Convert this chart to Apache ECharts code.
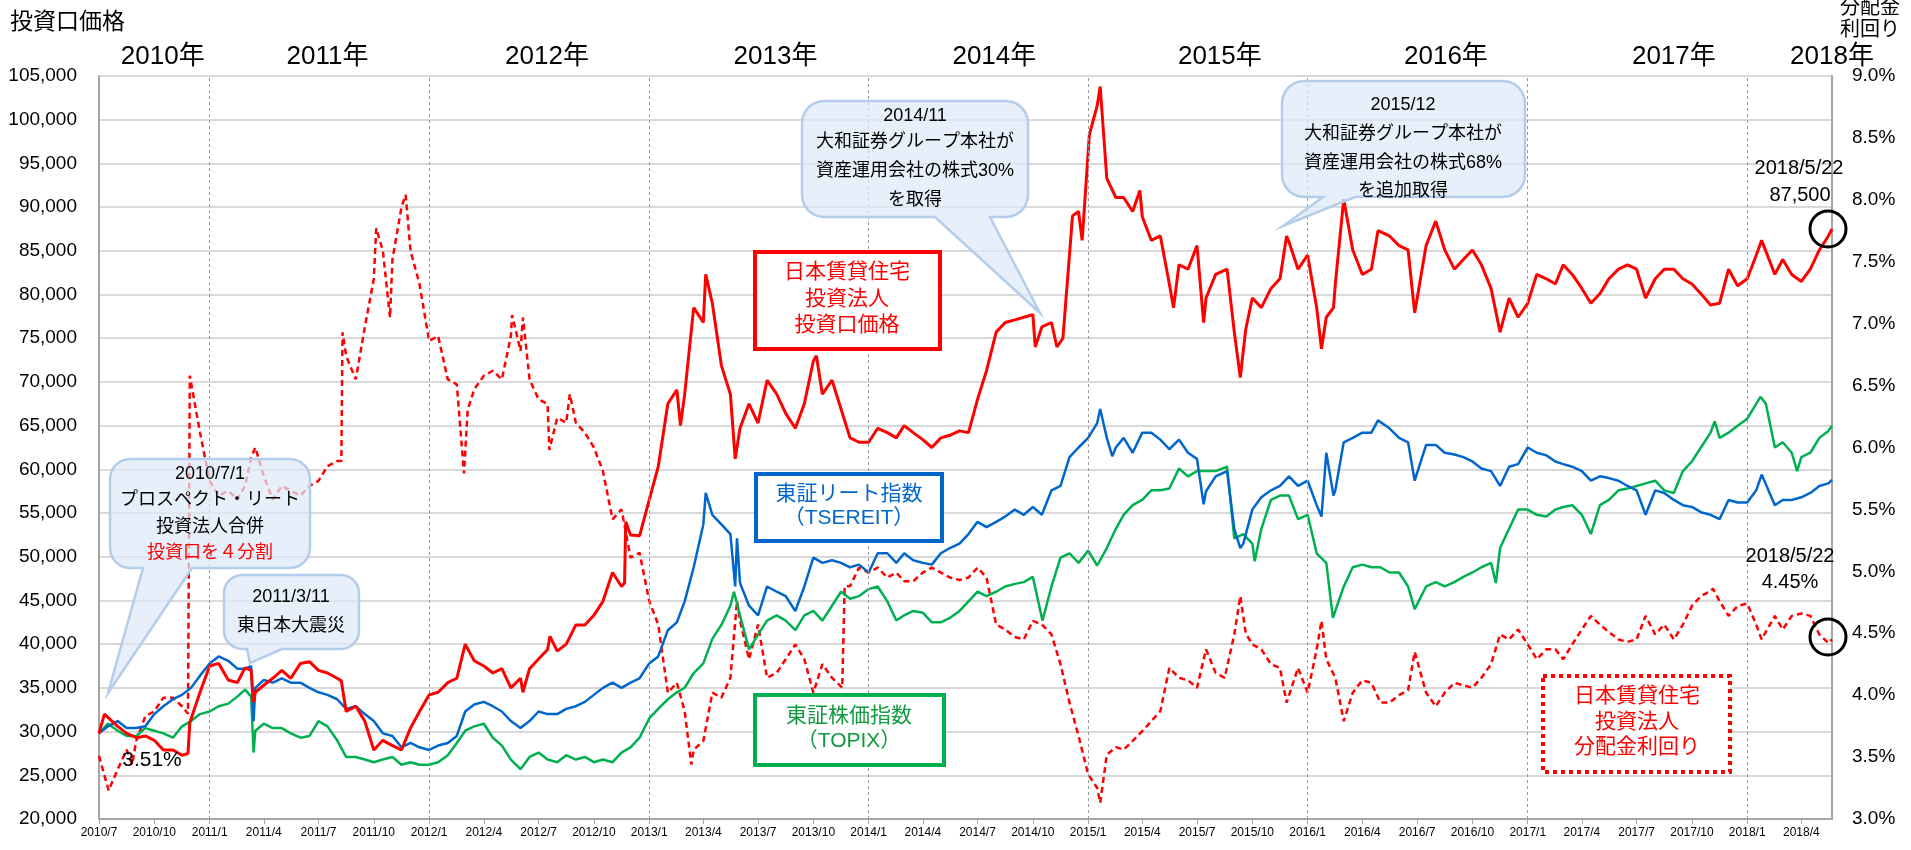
<!DOCTYPE html>
<html>
<head>
<meta charset="utf-8">
<title>日本賃貸住宅投資法人 投資口価格と分配金利回り</title>
<script src="https://cdn.jsdelivr.net/npm/echarts@6.0.0/dist/echarts.min.js"></script>
<style>
  html, body { margin: 0; padding: 0; background: #fff; }
  #main { width: 1911px; height: 850px; }
</style>
</head>
<body>
<div id="main"></div>
<script>
// 日本賃貸住宅投資法人 投資口価格（左軸・円）
var priceData = [
  ['2010-07-01', 29800], ['2010-07-10', 32000], ['2010-08-01', 30600], ['2010-08-16', 29800],
  ['2010-09-01', 29300], ['2010-09-16', 29500], ['2010-10-01', 29000], ['2010-10-16', 27900],
  ['2010-11-01', 27900], ['2010-11-16', 27300], ['2010-11-26', 27500], ['2010-11-29', 31000],
  ['2010-12-16', 34500], ['2011-01-01', 37500], ['2011-01-16', 37800], ['2011-02-01', 35900],
  ['2011-02-16', 35600], ['2011-03-01', 37300], ['2011-03-11', 37000], ['2011-03-15', 33400],
  ['2011-03-18', 34500], ['2011-04-01', 35300], ['2011-04-16', 36100], ['2011-05-01', 37000],
  ['2011-05-16', 36100], ['2011-06-01', 37800], ['2011-06-16', 38000], ['2011-07-01', 37000],
  ['2011-07-16', 36700], ['2011-08-01', 36100], ['2011-08-08', 35800], ['2011-08-16', 32300],
  ['2011-09-01', 32900], ['2011-09-16', 31200], ['2011-10-01', 27900], ['2011-10-16', 29000],
  ['2011-11-01', 28400], ['2011-11-16', 27900], ['2011-12-01', 30400], ['2011-12-16', 32300],
  ['2012-01-01', 34200], ['2012-01-16', 34500], ['2012-02-01', 35600], ['2012-02-16', 36100],
  ['2012-03-01', 40000], ['2012-03-16', 38100], ['2012-04-01', 37500], ['2012-04-16', 36700],
  ['2012-05-01', 37200], ['2012-05-16', 35000], ['2012-06-01', 36100], ['2012-06-05', 34500],
  ['2012-06-16', 37200], ['2012-07-01', 38300], ['2012-07-16', 39400], ['2012-07-20', 40900],
  ['2012-08-01', 39200], ['2012-08-16', 40000], ['2012-09-01', 42200], ['2012-09-16', 42200],
  ['2012-10-01', 43300], ['2012-10-16', 44900], ['2012-11-01', 48200], ['2012-11-16', 46600],
  ['2012-11-21', 47000], ['2012-11-23', 54000], ['2012-12-01', 52500], ['2012-12-16', 52400],
  ['2013-01-01', 56500], ['2013-01-16', 60300], ['2013-02-01', 67500], ['2013-02-16', 69100],
  ['2013-02-22', 65000], ['2013-03-01', 68600], ['2013-03-16', 78500], ['2013-04-01', 76800],
  ['2013-04-05', 82300], ['2013-04-16', 79000], ['2013-05-01', 71900], ['2013-05-16', 68600],
  ['2013-05-24', 61200], ['2013-06-01', 64700], ['2013-06-16', 67500], ['2013-07-01', 65300],
  ['2013-07-16', 70200], ['2013-08-01', 68600], ['2013-08-16', 66400], ['2013-09-01', 64700],
  ['2013-09-16', 67500], ['2013-10-01', 72400], ['2013-10-06', 73000], ['2013-10-16', 68600],
  ['2013-11-01', 70200], ['2013-11-16', 66900], ['2013-12-01', 63600], ['2013-12-16', 63100],
  ['2014-01-01', 63100], ['2014-01-16', 64700], ['2014-02-01', 64200], ['2014-02-16', 63600],
  ['2014-03-01', 65000], ['2014-03-16', 64200], ['2014-04-01', 63400], ['2014-04-16', 62500],
  ['2014-05-01', 63600], ['2014-05-16', 63900], ['2014-06-01', 64400], ['2014-06-16', 64200],
  ['2014-07-01', 68000], ['2014-07-16', 71300], ['2014-08-01', 75700], ['2014-08-16', 76800],
  ['2014-09-01', 77100], ['2014-09-16', 77400], ['2014-10-01', 77700], ['2014-10-05', 74000],
  ['2014-10-16', 76300], ['2014-11-01', 76800], ['2014-11-10', 74000], ['2014-11-20', 75000],
  ['2014-12-06', 89000], ['2014-12-16', 89500], ['2014-12-22', 86200], ['2015-01-03', 98300],
  ['2015-01-16', 101600], ['2015-01-21', 103800], ['2015-02-01', 93300], ['2015-02-16', 91100],
  ['2015-03-01', 91100], ['2015-03-16', 89500], ['2015-03-28', 91900], ['2015-04-01', 88900],
  ['2015-04-16', 86200], ['2015-05-01', 86700], ['2015-05-16', 81200], ['2015-05-23', 78500],
  ['2015-06-01', 83400], ['2015-06-16', 82900], ['2015-07-01', 85600], ['2015-07-12', 76800],
  ['2015-07-16', 79600], ['2015-08-01', 82300], ['2015-08-20', 82900], ['2015-09-01', 75700],
  ['2015-09-11', 70500], ['2015-09-20', 76000], ['2015-10-01', 79600], ['2015-10-16', 78500],
  ['2015-11-01', 80700], ['2015-11-16', 81800], ['2015-11-27', 86700], ['2015-12-01', 86000],
  ['2015-12-16', 82900], ['2016-01-01', 84500], ['2016-01-16', 78500], ['2016-01-24', 73800],
  ['2016-02-01', 77400], ['2016-02-13', 78500], ['2016-02-16', 81200], ['2016-03-01', 90900],
  ['2016-03-16', 85100], ['2016-04-01', 82300], ['2016-04-16', 82900], ['2016-04-27', 87300],
  ['2016-05-16', 86700], ['2016-06-01', 85600], ['2016-06-16', 85100], ['2016-06-27', 77900],
  ['2016-07-16', 85600], ['2016-08-01', 88400], ['2016-08-16', 85100], ['2016-09-01', 82900],
  ['2016-09-16', 84000], ['2016-10-01', 85100], ['2016-10-16', 83400], ['2016-11-01', 80700],
  ['2016-11-16', 75700], ['2016-12-01', 79600], ['2016-12-16', 77400], ['2017-01-01', 79000],
  ['2017-01-16', 82300], ['2017-02-01', 81800], ['2017-02-16', 81200], ['2017-03-01', 83400],
  ['2017-03-16', 82300], ['2017-04-01', 80700], ['2017-04-16', 79000], ['2017-05-01', 80100],
  ['2017-05-16', 81800], ['2017-06-01', 82900], ['2017-06-16', 83400], ['2017-07-01', 82900],
  ['2017-07-16', 79600], ['2017-08-01', 81800], ['2017-08-16', 82900], ['2017-09-01', 82900],
  ['2017-09-16', 81800], ['2017-10-01', 81200], ['2017-10-16', 80100], ['2017-11-01', 78800],
  ['2017-11-16', 79000], ['2017-12-01', 82900], ['2017-12-16', 81000], ['2018-01-01', 81800],
  ['2018-01-16', 84500], ['2018-01-25', 86200], ['2018-02-16', 82300], ['2018-03-01', 84000],
  ['2018-03-16', 82300], ['2018-04-01', 81500], ['2018-04-16', 82900], ['2018-05-01', 85100],
  ['2018-05-16', 86700], ['2018-05-22', 87500]
];

// 東証リート指数（左軸スケールに換算）
var reitData = [
  ['2010-07-01', 29800], ['2010-07-16', 30600], ['2010-08-01', 31200], ['2010-08-16', 30400],
  ['2010-09-01', 30400], ['2010-09-16', 30600], ['2010-10-01', 32000], ['2010-10-16', 32900],
  ['2010-11-01', 33700], ['2010-11-16', 34200], ['2010-12-01', 35000], ['2010-12-16', 36400],
  ['2011-01-01', 37800], ['2011-01-16', 38600], ['2011-02-01', 38100], ['2011-02-16', 37200],
  ['2011-03-01', 37200], ['2011-03-11', 37500], ['2011-03-15', 31200], ['2011-03-18', 35000],
  ['2011-04-01', 35900], ['2011-04-16', 35600], ['2011-05-01', 36100], ['2011-05-16', 35600],
  ['2011-06-01', 35600], ['2011-06-16', 35000], ['2011-07-01', 34500], ['2011-07-16', 34200],
  ['2011-08-01', 33700], ['2011-08-16', 32600], ['2011-09-01', 32900], ['2011-09-16', 32000],
  ['2011-10-01', 31200], ['2011-10-16', 29800], ['2011-11-01', 29500], ['2011-11-16', 28200],
  ['2011-12-01', 28700], ['2011-12-16', 28200], ['2012-01-01', 27900], ['2012-01-16', 28400],
  ['2012-02-01', 28700], ['2012-02-16', 29500], ['2012-03-01', 32300], ['2012-03-16', 33100],
  ['2012-04-01', 33400], ['2012-04-16', 32900], ['2012-05-01', 32300], ['2012-05-16', 31200],
  ['2012-06-01', 30400], ['2012-06-16', 31200], ['2012-07-01', 32300], ['2012-07-16', 32000],
  ['2012-08-01', 32000], ['2012-08-16', 32600], ['2012-09-01', 32900], ['2012-09-16', 33400],
  ['2012-10-01', 34200], ['2012-10-16', 35000], ['2012-11-01', 35600], ['2012-11-16', 35000],
  ['2012-12-01', 35600], ['2012-12-16', 36100], ['2013-01-01', 37800], ['2013-01-16', 38600],
  ['2013-02-01', 41600], ['2013-02-16', 42500], ['2013-03-01', 44900], ['2013-03-16', 48800],
  ['2013-04-01', 53700], ['2013-04-05', 57300], ['2013-04-16', 54800], ['2013-05-01', 53700],
  ['2013-05-16', 52600], ['2013-05-24', 46600], ['2013-05-27', 52100], ['2013-06-01', 47000],
  ['2013-06-16', 44400], ['2013-07-01', 43300], ['2013-07-16', 46600], ['2013-08-01', 46000],
  ['2013-08-16', 45500], ['2013-09-01', 43800], ['2013-09-16', 46600], ['2013-10-01', 49900],
  ['2013-10-16', 49300], ['2013-11-01', 49600], ['2013-11-16', 49300], ['2013-12-01', 48800],
  ['2013-12-16', 49100], ['2014-01-01', 48200], ['2014-01-16', 50400], ['2014-02-01', 50400],
  ['2014-02-16', 49300], ['2014-03-01', 50400], ['2014-03-16', 49600], ['2014-04-01', 49300],
  ['2014-04-16', 49100], ['2014-05-01', 50400], ['2014-05-16', 51000], ['2014-06-01', 51500],
  ['2014-06-16', 52600], ['2014-07-01', 54000], ['2014-07-16', 53400], ['2014-08-01', 54000],
  ['2014-08-16', 54600], ['2014-09-01', 55400], ['2014-09-16', 54800], ['2014-10-01', 55700],
  ['2014-10-16', 54800], ['2014-11-01', 57600], ['2014-11-16', 58100], ['2014-12-01', 61400],
  ['2014-12-16', 62500], ['2015-01-01', 63600], ['2015-01-16', 65300], ['2015-01-21', 66900],
  ['2015-02-01', 63600], ['2015-02-10', 61500], ['2015-02-16', 62500], ['2015-03-01', 63600],
  ['2015-03-16', 61900], ['2015-04-01', 64200], ['2015-04-16', 64200], ['2015-05-01', 63400],
  ['2015-05-16', 62300], ['2015-06-01', 63400], ['2015-06-16', 61900], ['2015-07-01', 61200],
  ['2015-07-12', 56000], ['2015-07-16', 57500], ['2015-08-01', 59200], ['2015-08-20', 59800],
  ['2015-09-01', 53200], ['2015-09-11', 51000], ['2015-09-16', 51500], ['2015-10-01', 55400],
  ['2015-10-16', 56800], ['2015-11-01', 57600], ['2015-11-16', 58100], ['2015-12-01', 59200],
  ['2015-12-16', 58100], ['2016-01-01', 58700], ['2016-01-16', 55900], ['2016-01-24', 54600],
  ['2016-02-01', 61900], ['2016-02-13', 57000], ['2016-02-16', 57600], ['2016-03-01', 63100],
  ['2016-03-16', 63600], ['2016-04-01', 64200], ['2016-04-16', 64200], ['2016-04-27', 65600],
  ['2016-05-16', 64700], ['2016-06-01', 63600], ['2016-06-16', 63100], ['2016-06-27', 58700],
  ['2016-07-16', 62800], ['2016-08-01', 62800], ['2016-08-16', 61900], ['2016-09-01', 61700],
  ['2016-09-16', 61400], ['2016-10-01', 60900], ['2016-10-16', 60100], ['2016-11-01', 59800],
  ['2016-11-16', 58100], ['2016-12-01', 60300], ['2016-12-16', 60600], ['2017-01-01', 62500],
  ['2017-01-16', 61900], ['2017-02-01', 61600], ['2017-02-16', 60900], ['2017-03-01', 60600],
  ['2017-03-16', 60300], ['2017-04-01', 59800], ['2017-04-16', 58700], ['2017-05-01', 59200],
  ['2017-05-16', 59000], ['2017-06-01', 58700], ['2017-06-16', 58100], ['2017-07-01', 57600],
  ['2017-07-16', 54800], ['2017-08-01', 57600], ['2017-08-16', 57300], ['2017-09-01', 56500],
  ['2017-09-16', 55900], ['2017-10-01', 55700], ['2017-10-16', 55100], ['2017-11-01', 54800],
  ['2017-11-16', 54300], ['2017-12-01', 56500], ['2017-12-16', 56200], ['2018-01-01', 56200],
  ['2018-01-16', 57600], ['2018-01-25', 59400], ['2018-02-16', 55900], ['2018-03-01', 56500],
  ['2018-03-16', 56500], ['2018-04-01', 56800], ['2018-04-16', 57300], ['2018-05-01', 58100],
  ['2018-05-16', 58400], ['2018-05-22', 58800]
];

// 東証株価指数 TOPIX（左軸スケールに換算）
var topixData = [
  ['2010-07-01', 29800], ['2010-07-16', 30900], ['2010-08-01', 30100], ['2010-08-16', 29500],
  ['2010-09-01', 29500], ['2010-09-16', 30400], ['2010-10-01', 30100], ['2010-10-16', 29800],
  ['2010-11-01', 29300], ['2010-11-16', 30600], ['2010-12-01', 31200], ['2010-12-16', 32000],
  ['2011-01-01', 32300], ['2011-01-16', 32900], ['2011-02-01', 33200], ['2011-02-16', 34000],
  ['2011-03-01', 34800], ['2011-03-11', 34000], ['2011-03-15', 27600], ['2011-03-18', 30100],
  ['2011-04-01', 30900], ['2011-04-16', 30400], ['2011-05-01', 30400], ['2011-05-16', 29800],
  ['2011-06-01', 29300], ['2011-06-16', 29500], ['2011-07-01', 31200], ['2011-07-16', 30600],
  ['2011-08-01', 29000], ['2011-08-16', 27100], ['2011-09-01', 27100], ['2011-09-16', 26800],
  ['2011-10-01', 26500], ['2011-10-16', 26800], ['2011-11-01', 27100], ['2011-11-16', 26200],
  ['2011-12-01', 26500], ['2011-12-16', 26200], ['2012-01-01', 26200], ['2012-01-16', 26500],
  ['2012-02-01', 27300], ['2012-02-16', 28700], ['2012-03-01', 30100], ['2012-03-16', 30600],
  ['2012-04-01', 30900], ['2012-04-16', 29300], ['2012-05-01', 28400], ['2012-05-16', 26800],
  ['2012-06-01', 25700], ['2012-06-16', 27100], ['2012-07-01', 27600], ['2012-07-16', 26800],
  ['2012-08-01', 26500], ['2012-08-16', 27300], ['2012-09-01', 26800], ['2012-09-16', 27100],
  ['2012-10-01', 26500], ['2012-10-16', 26800], ['2012-11-01', 26500], ['2012-11-16', 27600],
  ['2012-12-01', 28200], ['2012-12-16', 29300], ['2013-01-01', 31500], ['2013-01-16', 32600],
  ['2013-02-01', 33700], ['2013-02-16', 34500], ['2013-03-01', 35000], ['2013-03-16', 36700],
  ['2013-04-01', 37800], ['2013-04-16', 40600], ['2013-05-01', 42200], ['2013-05-16', 44400],
  ['2013-05-22', 46000], ['2013-06-01', 43300], ['2013-06-16', 39400], ['2013-07-01', 41100],
  ['2013-07-16', 42700], ['2013-08-01', 43300], ['2013-08-16', 42700], ['2013-09-01', 41600],
  ['2013-09-16', 43300], ['2013-10-01', 43800], ['2013-10-16', 42700], ['2013-11-01', 44400],
  ['2013-11-16', 46000], ['2013-12-01', 45200], ['2013-12-16', 45500], ['2014-01-01', 46300],
  ['2014-01-16', 46600], ['2014-02-01', 44900], ['2014-02-16', 42700], ['2014-03-01', 43300],
  ['2014-03-16', 43800], ['2014-04-01', 43600], ['2014-04-16', 42500], ['2014-05-01', 42500],
  ['2014-05-16', 43000], ['2014-06-01', 43800], ['2014-06-16', 44900], ['2014-07-01', 46000],
  ['2014-07-16', 45500], ['2014-08-01', 46000], ['2014-08-16', 46600], ['2014-09-01', 46900],
  ['2014-09-16', 47100], ['2014-10-01', 47700], ['2014-10-17', 42700], ['2014-11-01', 46600],
  ['2014-11-16', 49900], ['2014-12-01', 50400], ['2014-12-16', 49300], ['2015-01-01', 50700],
  ['2015-01-16', 49000], ['2015-02-01', 51000], ['2015-02-16', 53200], ['2015-03-01', 54800],
  ['2015-03-16', 55900], ['2015-04-01', 56500], ['2015-04-16', 57600], ['2015-05-01', 57600],
  ['2015-05-16', 57800], ['2015-06-01', 60100], ['2015-06-16', 59200], ['2015-07-01', 59800],
  ['2015-07-16', 59800], ['2015-08-01', 59800], ['2015-08-20', 60300], ['2015-09-01', 52100],
  ['2015-09-16', 52600], ['2015-10-01', 51500], ['2015-10-05', 49500], ['2015-10-16', 53200],
  ['2015-11-01', 56500], ['2015-11-16', 57000], ['2015-12-01', 57000], ['2015-12-16', 54300],
  ['2016-01-01', 54800], ['2016-01-16', 50400], ['2016-02-01', 49300], ['2016-02-12', 43000],
  ['2016-03-01', 46600], ['2016-03-16', 48800], ['2016-04-01', 49100], ['2016-04-16', 48800],
  ['2016-05-01', 48800], ['2016-05-16', 48200], ['2016-06-01', 48200], ['2016-06-16', 46600],
  ['2016-06-27', 44000], ['2016-07-16', 46600], ['2016-08-01', 47100], ['2016-08-16', 46600],
  ['2016-09-01', 47100], ['2016-09-16', 47700], ['2016-10-01', 48200], ['2016-10-16', 48800],
  ['2016-11-01', 49300], ['2016-11-09', 47000], ['2016-11-16', 51000], ['2016-12-01', 53200],
  ['2016-12-16', 55400], ['2017-01-01', 55400], ['2017-01-16', 54800], ['2017-02-01', 54600],
  ['2017-02-16', 55400], ['2017-03-01', 55700], ['2017-03-16', 55900], ['2017-04-01', 54800],
  ['2017-04-16', 52600], ['2017-05-01', 55900], ['2017-05-16', 56500], ['2017-06-01', 57600],
  ['2017-06-16', 57800], ['2017-07-01', 58100], ['2017-07-16', 58400], ['2017-08-01', 58700],
  ['2017-08-16', 57600], ['2017-09-01', 57300], ['2017-09-16', 59800], ['2017-10-01', 60900],
  ['2017-10-16', 62500], ['2017-11-01', 64200], ['2017-11-08', 65500], ['2017-11-16', 63600],
  ['2017-12-01', 64200], ['2017-12-16', 65000], ['2018-01-01', 65800], ['2018-01-16', 67500],
  ['2018-01-23', 68300], ['2018-02-01', 67500], ['2018-02-16', 62500], ['2018-03-01', 63100],
  ['2018-03-16', 61900], ['2018-03-25', 59800], ['2018-04-01', 61400], ['2018-04-16', 61900],
  ['2018-05-01', 63600], ['2018-05-16', 64400], ['2018-05-22', 65000]
];

// 日本賃貸住宅投資法人 分配金利回り（右軸・%）
var yieldData = [
  ['2010-07-01', 3.51], ['2010-07-17', 3.23], ['2010-08-01', 3.40], ['2010-08-16', 3.56],
  ['2010-08-25', 3.44], ['2010-09-01', 3.63], ['2010-09-16', 3.83], ['2010-10-01', 3.87],
  ['2010-10-16', 3.98], ['2010-11-01', 3.98], ['2010-11-16', 3.91], ['2010-11-26', 3.85],
  ['2010-11-29', 6.58], ['2010-12-16', 6.12], ['2011-01-01', 5.73], ['2011-01-16', 5.61],
  ['2011-02-01', 5.65], ['2011-02-16', 5.58], ['2011-03-01', 5.69], ['2011-03-11', 5.92],
  ['2011-03-18', 6.00], ['2011-04-01', 5.77], ['2011-04-16', 5.58], ['2011-05-01', 5.69],
  ['2011-05-16', 5.65], ['2011-06-01', 5.61], ['2011-06-16', 5.69], ['2011-07-01', 5.73],
  ['2011-07-16', 5.85], ['2011-08-01', 5.89], ['2011-08-08', 5.89], ['2011-08-10', 6.93],
  ['2011-08-16', 6.74], ['2011-09-01', 6.55], ['2011-09-16', 6.97], ['2011-10-01', 7.36],
  ['2011-10-05', 7.77], ['2011-10-16', 7.59], ['2011-10-28', 7.05], ['2011-11-01', 7.52],
  ['2011-11-16', 7.94], ['2011-11-23', 8.04], ['2011-12-01', 7.59], ['2011-12-16', 7.32],
  ['2012-01-01', 6.86], ['2012-01-16', 6.90], ['2012-02-01', 6.55], ['2012-02-16', 6.51],
  ['2012-02-28', 5.79], ['2012-03-05', 6.30], ['2012-03-16', 6.47], ['2012-04-01', 6.58],
  ['2012-04-16', 6.62], ['2012-05-01', 6.55], ['2012-05-16', 6.90], ['2012-05-18', 7.07],
  ['2012-06-01', 6.78], ['2012-06-05', 7.05], ['2012-06-16', 6.55], ['2012-07-01', 6.39],
  ['2012-07-16', 6.35], ['2012-07-19', 5.98], ['2012-08-01', 6.24], ['2012-08-16', 6.20],
  ['2012-08-22', 6.43], ['2012-09-01', 6.20], ['2012-09-16', 6.12], ['2012-10-01', 6.00],
  ['2012-10-16', 5.81], ['2012-11-01', 5.42], ['2012-11-16', 5.50], ['2012-12-01', 5.11],
  ['2012-12-16', 5.15], ['2013-01-01', 4.76], ['2013-01-16', 4.57], ['2013-02-01', 4.02],
  ['2013-02-16', 4.10], ['2013-03-01', 3.87], ['2013-03-12', 3.44], ['2013-03-16', 3.56],
  ['2013-04-01', 3.63], ['2013-04-16', 4.02], ['2013-05-01', 3.98], ['2013-05-16', 4.14],
  ['2013-05-27', 4.76], ['2013-06-01', 4.60], ['2013-06-16', 4.29], ['2013-07-01', 4.57],
  ['2013-07-16', 4.14], ['2013-08-01', 4.18], ['2013-08-16', 4.29], ['2013-09-01', 4.41],
  ['2013-09-16', 4.29], ['2013-10-01', 4.02], ['2013-10-16', 4.25], ['2013-11-01', 4.14],
  ['2013-11-18', 4.06], ['2013-11-22', 4.88], ['2013-12-01', 4.88], ['2013-12-16', 5.03],
  ['2014-01-01', 4.99], ['2014-01-16', 5.03], ['2014-02-01', 4.95], ['2014-02-16', 4.99],
  ['2014-03-01', 4.92], ['2014-03-16', 4.92], ['2014-04-01', 4.99], ['2014-04-16', 5.03],
  ['2014-05-01', 4.99], ['2014-05-16', 4.95], ['2014-06-01', 4.93], ['2014-06-16', 4.95],
  ['2014-07-01', 5.03], ['2014-07-16', 4.95], ['2014-08-01', 4.57], ['2014-08-16', 4.53],
  ['2014-09-01', 4.47], ['2014-09-16', 4.45], ['2014-10-01', 4.60], ['2014-10-16', 4.57],
  ['2014-11-01', 4.49], ['2014-11-16', 4.25], ['2014-12-01', 3.94], ['2014-12-16', 3.67],
  ['2015-01-01', 3.36], ['2015-01-16', 3.25], ['2015-01-21', 3.13], ['2015-02-01', 3.52],
  ['2015-02-16', 3.58], ['2015-03-01', 3.56], ['2015-03-16', 3.63], ['2015-04-01', 3.71],
  ['2015-04-16', 3.79], ['2015-05-01', 3.87], ['2015-05-16', 4.22], ['2015-06-01', 4.14],
  ['2015-06-16', 4.12], ['2015-07-01', 4.06], ['2015-07-16', 4.37], ['2015-08-01', 4.18],
  ['2015-08-16', 4.14], ['2015-09-01', 4.49], ['2015-09-11', 4.80], ['2015-09-20', 4.50],
  ['2015-10-01', 4.41], ['2015-10-16', 4.37], ['2015-11-01', 4.25], ['2015-11-16', 4.22],
  ['2015-11-27', 3.94], ['2015-12-16', 4.22], ['2016-01-01', 4.02], ['2016-01-16', 4.37],
  ['2016-01-24', 4.60], ['2016-02-01', 4.29], ['2016-02-16', 4.14], ['2016-03-01', 3.79],
  ['2016-03-16', 4.02], ['2016-04-01', 4.12], ['2016-04-16', 4.10], ['2016-05-01', 3.94],
  ['2016-05-16', 3.94], ['2016-06-01', 4.00], ['2016-06-16', 4.04], ['2016-06-27', 4.35],
  ['2016-07-16', 4.02], ['2016-08-01', 3.91], ['2016-08-16', 4.02], ['2016-09-01', 4.10],
  ['2016-09-16', 4.08], ['2016-10-01', 4.06], ['2016-10-16', 4.14], ['2016-11-01', 4.25],
  ['2016-11-16', 4.49], ['2016-12-01', 4.45], ['2016-12-16', 4.53], ['2017-01-01', 4.41],
  ['2017-01-16', 4.29], ['2017-02-01', 4.37], ['2017-02-16', 4.37], ['2017-03-01', 4.29],
  ['2017-03-16', 4.41], ['2017-04-01', 4.53], ['2017-04-16', 4.64], ['2017-05-01', 4.57],
  ['2017-05-16', 4.51], ['2017-06-01', 4.45], ['2017-06-16', 4.43], ['2017-07-01', 4.45],
  ['2017-07-16', 4.64], ['2017-08-01', 4.49], ['2017-08-16', 4.57], ['2017-09-01', 4.45],
  ['2017-09-16', 4.57], ['2017-10-01', 4.72], ['2017-10-16', 4.80], ['2017-11-01', 4.84],
  ['2017-11-05', 4.86], ['2017-11-16', 4.76], ['2017-12-01', 4.64], ['2017-12-16', 4.72],
  ['2018-01-01', 4.74], ['2018-01-16', 4.57], ['2018-01-25', 4.45], ['2018-02-16', 4.64],
  ['2018-03-01', 4.53], ['2018-03-16', 4.64], ['2018-04-01', 4.66], ['2018-04-16', 4.64],
  ['2018-05-01', 4.49], ['2018-05-16', 4.42], ['2018-05-22', 4.45]
];

// 軸まわり
var startDate = '2010-07-01';
var endDate = '2018-05-22';
var quarterTicks = [
  '2010-07-01', '2010-10-01', '2011-01-01', '2011-04-01', '2011-07-01', '2011-10-01',
  '2012-01-01', '2012-04-01', '2012-07-01', '2012-10-01', '2013-01-01', '2013-04-01',
  '2013-07-01', '2013-10-01', '2014-01-01', '2014-04-01', '2014-07-01', '2014-10-01',
  '2015-01-01', '2015-04-01', '2015-07-01', '2015-10-01', '2016-01-01', '2016-04-01',
  '2016-07-01', '2016-10-01', '2017-01-01', '2017-04-01', '2017-07-01', '2017-10-01',
  '2018-01-01', '2018-04-01'
];
var yearLines = ['2011-01-01', '2012-01-01', '2013-01-01', '2014-01-01', '2015-01-01',
  '2016-01-01', '2017-01-01', '2018-01-01'];
var yearLabels = ['2010年', '2011年', '2012年', '2013年', '2014年', '2015年', '2016年', '2017年', '2018年'];
var yearLabelDates = ['2010-10-15', '2011-07-16', '2012-07-15', '2013-07-30', '2014-07-29',
  '2015-08-08', '2016-08-18', '2017-09-01', '2018-05-22'];

var FONT = '"Liberation Sans", "Noto Sans CJK JP", sans-serif';

function toTime(s) {
  return new Date(s.replace(/-/g, '/')).getTime();
}
function toPairs(arr) {
  return arr.map(function (p) { return [toTime(p[0]), p[1]]; });
}

// 吹き出し（角丸＋しっぽ）
function calloutPoints(x, y, w, h, r, b1, b2, tx, ty) {
  var pts = [];
  function arc(cx, cy, a0, a1) {
    for (var i = 0; i <= 6; i++) {
      var a = a0 + (a1 - a0) * i / 6;
      pts.push([cx + r * Math.cos(a), cy + r * Math.sin(a)]);
    }
  }
  arc(x + r, y + r, Math.PI, 1.5 * Math.PI);
  arc(x + w - r, y + r, 1.5 * Math.PI, 2 * Math.PI);
  arc(x + w - r, y + h - r, 0, 0.5 * Math.PI);
  pts.push([b2, y + h], [tx, ty], [b1, y + h]);
  arc(x + r, y + h - r, 0.5 * Math.PI, Math.PI);
  return pts;
}

function textEl(str, x, y, size, color, align) {
  return {
    type: 'text', z: 110, silent: true,
    style: {
      text: str, x: x, y: y, fill: color || '#000',
      font: size + 'px ' + FONT,
      textAlign: align || 'center',
      textVerticalAlign: 'middle'
    }
  };
}

function calloutEl(pts) {
  return {
    type: 'polygon', z: 100, silent: true,
    shape: { points: pts },
    style: { fill: 'rgba(222,234,248,0.72)', stroke: '#b3cdea', lineWidth: 2.5 }
  };
}

function boxEl(x, y, w, h, color, dash) {
  return {
    type: 'rect', z: 100, silent: true,
    shape: { x: x, y: y, width: w, height: h },
    style: { fill: '#fff', stroke: color, lineWidth: 4, lineDash: dash || null }
  };
}

function circleEl(cx, cy, r) {
  return {
    type: 'circle', z: 105, silent: true,
    shape: { cx: cx, cy: cy, r: r },
    style: { fill: 'none', stroke: '#000', lineWidth: 3 }
  };
}

var graphics = [
  textEl('投資口価格', 10, 23, 23, '#000', 'left'),
  textEl('分配金', 1840, 8, 20, '#000', 'left'),
  textEl('利回り', 1840, 30, 20, '#000', 'left'),

  calloutEl(calloutPoints(110, 459, 200, 109, 20, 143, 192, 108, 693)),
  textEl('2010/7/1', 210, 474, 18),
  textEl('プロスペクト・リート', 210, 500, 18),
  textEl('投資法人合併', 210, 527, 18),
  textEl('投資口を４分割', 210, 553, 18, '#ff0000'),

  calloutEl(calloutPoints(224, 575, 135, 74, 18, 247, 282, 250, 663)),
  textEl('2011/3/11', 291, 597, 18),
  textEl('東日本大震災', 291, 626, 18),

  calloutEl(calloutPoints(802, 101, 226, 116, 22, 935, 990, 1040, 313)),
  textEl('2014/11', 915, 116, 18),
  textEl('大和証券グループ本社が', 915, 142, 18),
  textEl('資産運用会社の株式30%', 915, 171, 18),
  textEl('を取得', 915, 200, 18),

  calloutEl(calloutPoints(1282, 81, 243, 116, 22, 1323, 1355, 1283, 226)),
  textEl('2015/12', 1403, 105, 18),
  textEl('大和証券グループ本社が', 1403, 134, 18),
  textEl('資産運用会社の株式68%', 1403, 163, 18),
  textEl('を追加取得', 1403, 191, 18),

  boxEl(755, 252, 185, 97, '#ff0000'),
  textEl('日本賃貸住宅', 847, 272, 21, '#ff0000'),
  textEl('投資法人', 847, 299, 21, '#ff0000'),
  textEl('投資口価格', 847, 325, 21, '#ff0000'),

  boxEl(756, 474, 186, 67, '#0066cc'),
  textEl('東証リート指数', 849, 494, 21, '#0066cc'),
  textEl('（TSEREIT）', 849, 518, 21, '#0066cc'),

  boxEl(755, 695, 189, 70, '#00b050'),
  textEl('東証株価指数', 849, 716, 21, '#119a3f'),
  textEl('（TOPIX）', 849, 741, 21, '#119a3f'),

  boxEl(1543, 676, 187, 96, '#ff0000', [4, 4]),
  textEl('日本賃貸住宅', 1637, 696, 21, '#ff0000'),
  textEl('投資法人', 1637, 722, 21, '#ff0000'),
  textEl('分配金利回り', 1637, 747, 21, '#ff0000'),

  textEl('3.51%', 152, 760, 21),
  textEl('2018/5/22', 1799, 168, 20),
  textEl('87,500', 1800, 195, 20),
  circleEl(1828, 229, 18),
  textEl('2018/5/22', 1790, 556, 20),
  textEl('4.45%', 1790, 582, 20),
  circleEl(1828, 637, 18)
];

var chart = echarts.init(document.getElementById('main'));

var quarterTimes = quarterTicks.map(toTime);
var yearLabelTimes = yearLabelDates.map(toTime);

var option = {
  animation: false,
  backgroundColor: '#fff',
  grid: { left: 99, right: 79, top: 76, bottom: 31, containLabel: false },
  xAxis: [
    {
      type: 'value',
      min: toTime(startDate),
      max: toTime(endDate),
      axisLine: { show: true, lineStyle: { color: '#a6a6a6', width: 2 } },
      axisTick: { show: true, customValues: quarterTimes, length: 5, lineStyle: { color: '#a6a6a6' } },
      axisLabel: {
        customValues: quarterTimes,
        color: '#000', fontSize: 12, fontFamily: FONT, margin: 8,
        formatter: function (v) {
          var d = new Date(v);
          return d.getFullYear() + '/' + (d.getMonth() + 1);
        }
      },
      splitLine: { show: false }
    },
    {
      type: 'value',
      position: 'top',
      min: toTime(startDate),
      max: toTime(endDate),
      axisLine: { show: false },
      axisTick: { show: false },
      splitLine: { show: false },
      axisLabel: {
        customValues: yearLabelTimes,
        color: '#000', fontSize: 26, fontFamily: FONT, margin: 6,
        formatter: function (v) {
          var best = 0;
          for (var i = 1; i < yearLabelTimes.length; i++) {
            if (Math.abs(yearLabelTimes[i] - v) < Math.abs(yearLabelTimes[best] - v)) best = i;
          }
          return yearLabels[best];
        }
      }
    }
  ],
  yAxis: [
    {
      type: 'value',
      min: 20000, max: 105000, interval: 5000,
      axisLine: { show: true, lineStyle: { color: '#a6a6a6', width: 2 } },
      axisTick: { show: false },
      axisLabel: {
        color: '#000', fontSize: 19, fontFamily: FONT, margin: 22,
        formatter: function (v) { return v.toLocaleString('en-US'); }
      },
      splitLine: { show: true, lineStyle: { color: '#d9d9d9', width: 2 } }
    },
    {
      type: 'value',
      min: 3, max: 9, interval: 0.5,
      axisLine: { show: true, lineStyle: { color: '#a6a6a6', width: 2 } },
      axisTick: { show: false },
      axisLabel: {
        color: '#000', fontSize: 19, fontFamily: FONT, margin: 20,
        formatter: function (v) { return v.toFixed(1) + '%'; }
      },
      splitLine: { show: false }
    }
  ],
  series: [
    {
      name: '分配金利回り', type: 'line', yAxisIndex: 1, data: toPairs(yieldData),
      symbol: 'none', lineStyle: { color: '#ff0000', width: 2.5, type: [6, 4] },
      markLine: {
        silent: true, symbol: 'none', label: { show: false },
        lineStyle: { color: '#9a9a9a', width: 1, type: [3, 3] },
        data: yearLines.map(function (d) { return { xAxis: toTime(d) }; })
      }
    },
    {
      name: '東証株価指数', type: 'line', data: toPairs(topixData),
      symbol: 'none', lineStyle: { color: '#00b050', width: 2.5 }
    },
    {
      name: '東証リート指数', type: 'line', data: toPairs(reitData),
      symbol: 'none', lineStyle: { color: '#0066cc', width: 2.5 }
    },
    {
      name: '投資口価格', type: 'line', data: toPairs(priceData),
      symbol: 'none', lineStyle: { color: '#ff0000', width: 3 }
    }
  ],
  graphic: { elements: graphics }
};

chart.setOption(option);
</script>
</body>
</html>
